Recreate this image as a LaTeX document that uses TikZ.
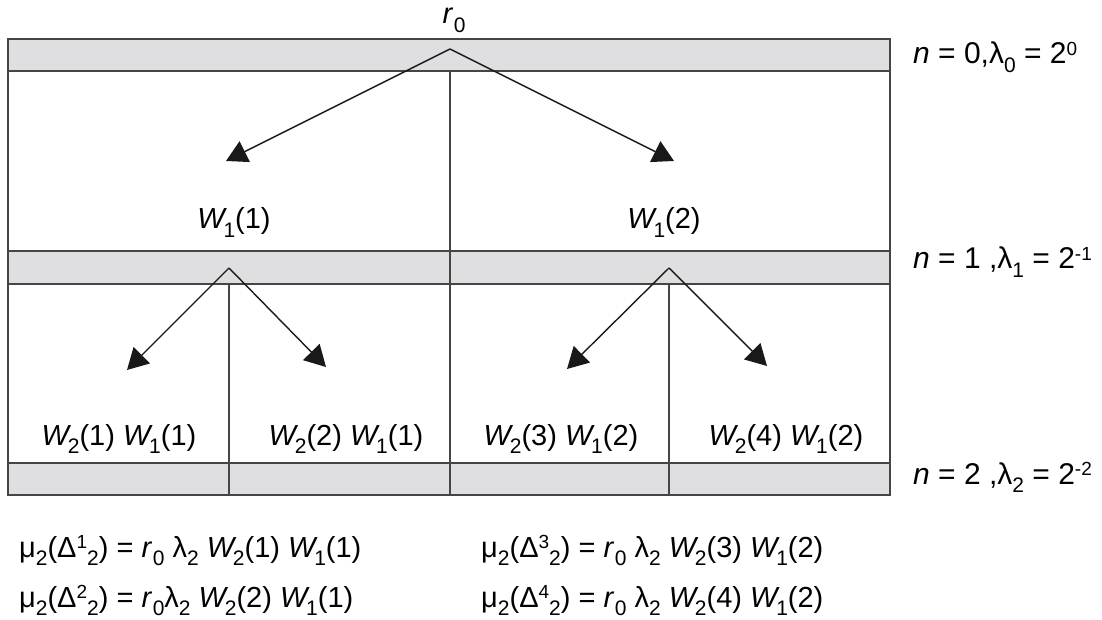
\documentclass[tikz,border=0pt]{standalone}
\usepackage{fontspec}
\setmainfont{Liberation Sans}
\usetikzlibrary{arrows.meta}
\definecolor{bandgray}{HTML}{DFDFE1}
\definecolor{linegray}{HTML}{454545}
\newcommand\sbs[1]{\raisebox{-0.28em}{\fontsize{21}{21}\selectfont #1}}
\newcommand\sps[1]{\raisebox{0.28em}{\fontsize{19}{19}\selectfont #1}}
\newcommand\Wi[1]{\textit{W}\kern-0.12em\sbs{#1}}
\newcommand\ri{\textit{r}\kern0.02em\sbs{0}}
\begin{document}
\begin{tikzpicture}[x=1pt,y=-1pt,
  lbl/.style={inner sep=0pt,font=\fontsize{29}{33}\selectfont},
  biglbl/.style={inner sep=0pt,font=\fontsize{30}{34}\selectfont},
  band/.style={fill=bandgray,draw=linegray,line width=1.6pt},
  gridline/.style={draw=linegray,line width=1.6pt},
  arr/.style={line width=1.4pt,draw=black!90,-{Triangle[length=21pt,width=23pt]}}
]
\useasboundingbox (0,0) rectangle (1102,620);
% bands
\path[band] (8,39) rectangle (890,71);
\path[band] (8,251) rectangle (890,284);
\path[band] (8,463) rectangle (890,495);
% outer box and dividers
\draw[gridline] (8,39) rectangle (890,495);
\draw[gridline] (450,71) -- (450,495);
\draw[gridline] (229,284) -- (229,495);
\draw[gridline] (669,284) -- (669,495);
% coordinates
\coordinate (a0) at (450,49);
\coordinate (a1) at (229,268);
\coordinate (a2) at (669,268);
\coordinate (t1) at (226,161);
\coordinate (t2) at (674,161);
\coordinate (t11) at (127,370);
\coordinate (t12) at (326,367);
\coordinate (t21) at (567,369);
\coordinate (t22) at (767,366);
% arrows
\draw[arr] (a0) -- (t1);
\draw[arr] (a0) -- (t2);
\draw[arr] (a1) -- (t11);
\draw[arr] (a1) -- (t12);
\draw[arr] (a2) -- (t21);
\draw[arr] (a2) -- (t22);
% labels
\node[lbl,anchor=base] (r0) at (454,24) {\ri};
\node[lbl,anchor=base] (w11) at (234,229) {\Wi{1}(1)};
\node[lbl,anchor=base] (w12) at (664,229) {\Wi{1}(2)};
\node[lbl,anchor=base] (c1) at (119,445) {\Wi{2}(1) \Wi{1}(1)};
\node[lbl,anchor=base] (c2) at (346,445) {\Wi{2}(2) \Wi{1}(1)};
\node[lbl,anchor=base] (c3) at (561,445) {\Wi{2}(3) \Wi{1}(2)};
\node[lbl,anchor=base] (c4) at (786,445) {\Wi{2}(4) \Wi{1}(2)};
% level labels
\node[biglbl,anchor=base west] (n0) at (913,64) {\textit{n} = 0,λ\sbs{0} = 2\sps{0}};
\node[biglbl,anchor=base west] (n1) at (913,269) {\textit{n} = 1 ,λ\sbs{1} = 2\sps{-1}};
\node[biglbl,anchor=base west] (n2) at (913,484) {\textit{n} = 2 ,λ\sbs{2} = 2\sps{-2}};
% formulas
\node[lbl,anchor=base west] (f1) at (19,557) {μ\sbs{2}(Δ\sps{1}\sbs{2}) = \ri\ λ\sbs{2} \Wi{2}(1) \Wi{1}(1)};
\node[lbl,anchor=base west] (f2) at (19,607) {μ\sbs{2}(Δ\sps{2}\sbs{2}) = \ri λ\sbs{2} \Wi{2}(2) \Wi{1}(1)};
\node[lbl,anchor=base west] (f3) at (481,557) {μ\sbs{2}(Δ\sps{3}\sbs{2}) = \ri\ λ\sbs{2} \Wi{2}(3) \Wi{1}(2)};
\node[lbl,anchor=base west] (f4) at (481,607) {μ\sbs{2}(Δ\sps{4}\sbs{2}) = \ri\ λ\sbs{2} \Wi{2}(4) \Wi{1}(2)};
\end{tikzpicture}
\end{document}
